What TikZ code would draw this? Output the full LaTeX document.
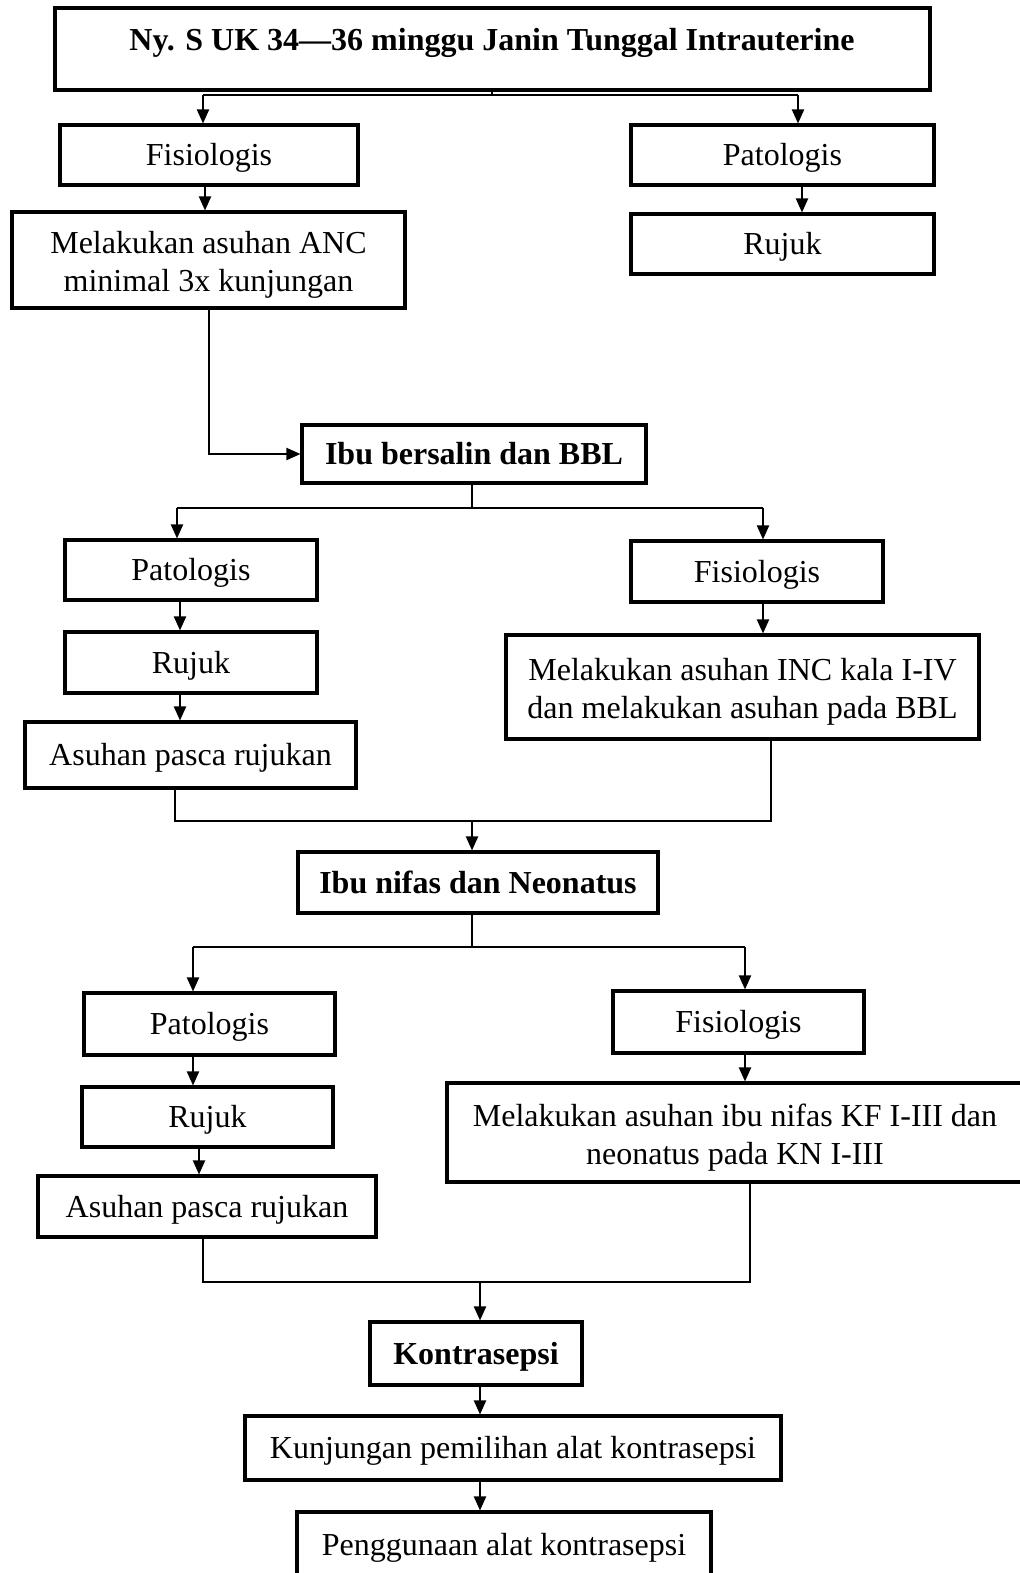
\documentclass[tikz,border=0pt]{standalone}
\usepackage{fontspec}
\setmainfont{Liberation Serif}
\usetikzlibrary{arrows.meta}
\newcommand{\twolines}[2]{\raisebox{-4pt}[\height][\depth]{\begin{tabular}{@{}c@{}}#1\\#2\end{tabular}}}
\tikzset{
  bx/.style 2 args={draw, line width=2.3pt, rectangle, inner sep=0pt, align=center,
    minimum width=#1*0.75pt, minimum height=#2*0.75pt,
    font=\fontsize{24}{28.5}\selectfont},
  one/.style={text height=16pt, text depth=0pt},
  bxb/.style 2 args={bx={#1}{#2}, font=\fontsize{24}{28.5}\selectfont\bfseries},
  ln/.style={line width=1.5pt},
  arr/.style={ln, -{Triangle[length=10.5pt,width=9pt]}},
}
\begin{document}
\begin{tikzpicture}[x=0.75pt,y=-0.75pt]
\useasboundingbox[fill=white] (0,0) rectangle (1020,1573);
% nodes
\node[bx={875}{82}] (t) at (492.5,49) {};
\node[one, font=\fontsize{24}{28.5}\selectfont\bfseries] (tt) at (492,40) {Ny. S UK 34---36 minggu Janin Tunggal Intrauterine};
\node[bx={298}{60}, one] (fis1) at (209,155) {Fisiologis};
\node[bx={303}{60}, one] (pat1) at (782.5,155) {Patologis};
\node[bx={393}{96}] (anc) at (208.5,260) {\twolines{Melakukan asuhan ANC}{minimal 3x kunjungan}};
\node[bx={303}{60}, one] (rj1) at (782.5,244) {Rujuk};
\node[bxb={344}{58}, one] (ibb) at (474,454) {Ibu bersalin dan BBL};
\node[bx={252}{60}, one] (pat2) at (191,570) {Patologis};
\node[bx={252}{61}, one] (fis2) at (757,571.5) {Fisiologis};
\node[bx={252}{61}, one] (rj2) at (191,662.5) {Rujuk};
\node[bx={331}{66}, one] (apr2) at (190.5,755) {Asuhan pasca rujukan};
\node[bx={473}{104}] (inc) at (742.5,687) {\twolines{Melakukan asuhan INC kala I-IV}{dan melakukan asuhan pada BBL}};
\node[bxb={360}{61}, one] (nif) at (478,882.5) {Ibu nifas dan Neonatus};
\node[bx={251}{62}, one] (pat3) at (209.5,1024) {Patologis};
\node[bx={251}{62}, one] (fis3) at (738.5,1022) {Fisiologis};
\node[bx={251}{60}, one] (rj3) at (207.5,1117) {Rujuk};
\node[bx={338}{61}, one] (apr3) at (207,1206.5) {Asuhan pasca rujukan};
\node[bx={576}{99}] (ibn) at (735,1132.5) {\twolines{Melakukan asuhan ibu nifas KF I-III dan}{neonatus pada KN I-III}};
\node[bxb={212}{63}, one] (kon) at (476,1353.5) {Kontrasepsi};
\node[bx={536}{64}, one] (kun) at (513,1448) {Kunjungan pemilihan alat kontrasepsi};
\node[bx={414}{66}, one] (pen) at (504,1545) {Penggunaan alat kontrasepsi};
% junction coordinates
\coordinate (j1) at (492,95);
\coordinate (j1l) at (203,95);
\coordinate (j1r) at (798,95);
\coordinate (c1) at (802,0);
\coordinate (c2) at (205,0);
\coordinate (j2) at (472,508);
\coordinate (j2l) at (177,508);
\coordinate (j2r) at (763,508);
\coordinate (c3) at (180,0);
\coordinate (j3l) at (175,821);
\coordinate (j3r) at (771,821);
\coordinate (j3) at (472,821);
\coordinate (j4) at (472,947);
\coordinate (j4l) at (193,947);
\coordinate (j4r) at (745,947);
\coordinate (c4) at (199,0);
\coordinate (j5l) at (203,1282);
\coordinate (j5r) at (750,1282);
\coordinate (j5) at (480,1282);
% connectors
\draw[ln] (t.south -| j1) -- (j1);
\draw[ln] (j1l) -- (j1r);
\draw[arr] (j1l) -- (fis1.north -| j1l);
\draw[arr] (j1r) -- (pat1.north -| j1r);
\draw[arr] (fis1.south -| c2) -- (anc.north -| c2);
\draw[arr] (pat1.south -| c1) -- (rj1.north -| c1);
\draw[arr] (anc.south) |- (ibb.west);
\draw[ln] (ibb.south -| j2) -- (j2);
\draw[ln] (j2l) -- (j2r);
\draw[arr] (j2l) -- (pat2.north -| j2l);
\draw[arr] (j2r) -- (fis2.north -| j2r);
\draw[arr] (pat2.south -| c3) -- (rj2.north -| c3);
\draw[arr] (rj2.south -| c3) -- (apr2.north -| c3);
\draw[arr] (fis2.south -| j2r) -- (inc.north -| j2r);
\draw[ln] (apr2.south -| j3l) -- (j3l) -- (j3r) -- (inc.south -| j3r);
\draw[arr] (j3) -- (nif.north -| j3);
\draw[ln] (nif.south -| j4) -- (j4);
\draw[ln] (j4l) -- (j4r);
\draw[arr] (j4l) -- (pat3.north -| j4l);
\draw[arr] (j4r) -- (fis3.north -| j4r);
\draw[arr] (pat3.south -| j4l) -- (rj3.north -| j4l);
\draw[arr] (rj3.south -| c4) -- (apr3.north -| c4);
\draw[arr] (fis3.south -| j4r) -- (ibn.north -| j4r);
\draw[ln] (apr3.south -| j5l) -- (j5l) -- (j5r) -- (ibn.south -| j5r);
\draw[arr] (j5) -- (kon.north -| j5);
\draw[arr] (kon.south -| j5) -- (kun.north -| j5);
\draw[arr] (kun.south -| j5) -- (pen.north -| j5);
\end{tikzpicture}
\end{document}
